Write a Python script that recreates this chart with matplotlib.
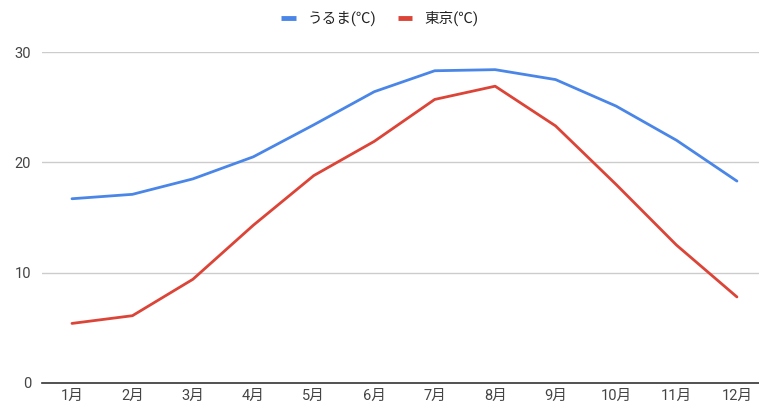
import matplotlib
matplotlib.use("Agg")
import matplotlib.pyplot as plt

plt.rcParams['font.family'] = ['Roboto', 'Noto Sans CJK JP', 'DejaVu Sans']

months = ['1月', '2月', '3月', '4月', '5月', '6月', '7月', '8月', '9月', '10月', '11月', '12月']
uruma = [16.7, 17.1, 18.5, 20.5, 23.4, 26.4, 28.3, 28.4, 27.5, 25.1, 22.0, 18.3]
tokyo = [5.4, 6.1, 9.4, 14.3, 18.8, 21.9, 25.7, 26.9, 23.3, 18.0, 12.5, 7.8]

fig = plt.figure(figsize=(7.59, 4.08), dpi=100)
ax = fig.add_axes([42 / 759, 25 / 408, 717 / 759, 331 / 408])

x = range(len(months))
ax.plot(x, uruma, color='#4a86e8', lw=2, label='うるま(℃)', solid_capstyle='round')
ax.plot(x, tokyo, color='#db4437', lw=2, label='東京(℃)', solid_capstyle='round')

ax.set_xlim(-0.496, 11.365)
ax.set_ylim(0, 30)
ax.set_yticks([0, 10, 20, 30])
ax.set_xticks(list(x))
ax.set_xticklabels(months)
ax.grid(axis='y', color='#cccccc', lw=1)
ax.set_axisbelow(True)
for s in ['top', 'right', 'left']:
    ax.spines[s].set_visible(False)
ax.spines['bottom'].set_color('#333333')
ax.spines['bottom'].set_linewidth(1.2)
ax.tick_params(axis='both', length=0, labelsize=10.5, colors='#444444')
ax.tick_params(axis='y', pad=8)
ax.tick_params(axis='x', pad=4)
ax.yaxis.get_gridlines()[0].set_visible(False)

leg = fig.legend(loc='upper center', bbox_to_anchor=(0.5, 1.005), ncol=2, frameon=False,
                 fontsize=10.5, handlelength=1.0, columnspacing=1.5, handletextpad=0.8,
                 labelcolor='#222222')
for h in leg.legend_handles:
    h.set_linewidth(3.5)
    h.set_solid_capstyle('butt')

fig.savefig('out.png', dpi=100)
